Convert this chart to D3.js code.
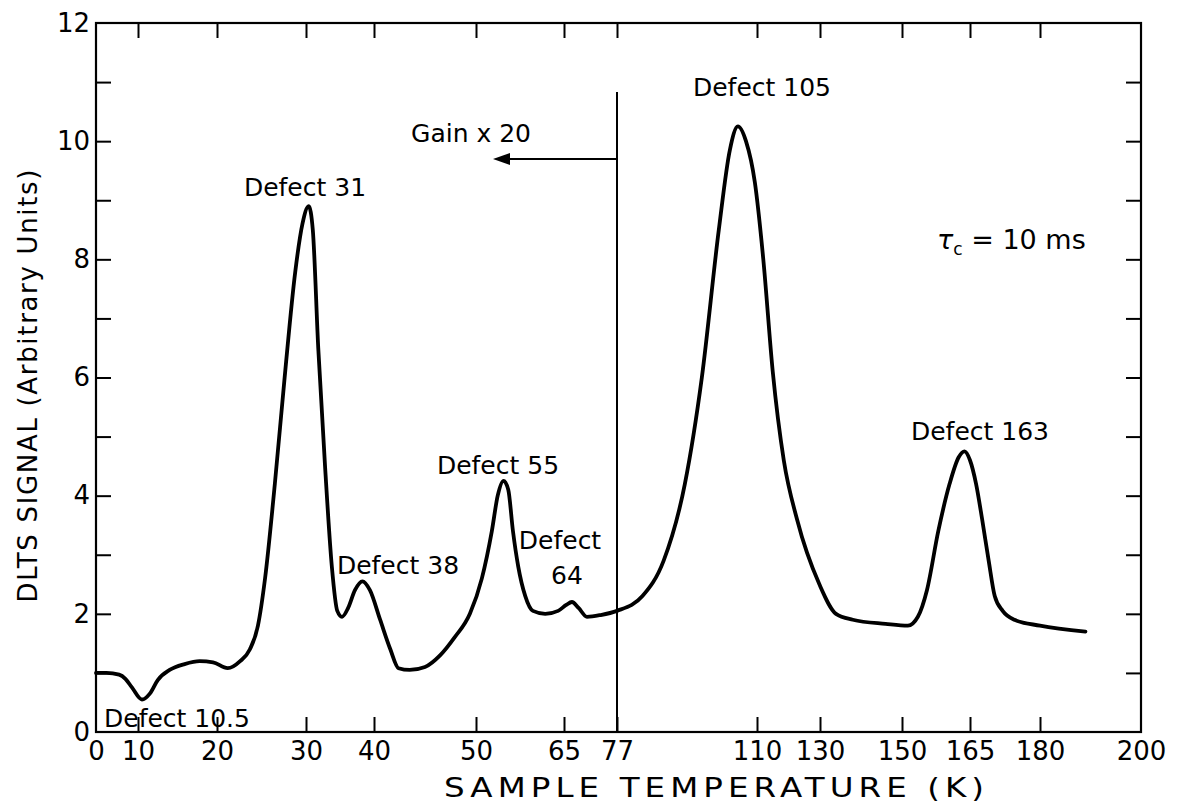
<!DOCTYPE html>
<html>
<head>
<meta charset="utf-8">
<script src="https://cdn.jsdelivr.net/npm/d3@7"></script>
<style>
  body { margin: 0; background: #fff; }
  svg text { font-family: "DejaVu Sans", sans-serif; fill: #000; }
</style>
</head>
<body>
<svg id="chart" width="1177" height="806"></svg>
<script>
// x axis of the original is hand ruled, not linear
const tickValues = [0, 10, 20, 30, 40, 50, 65, 77, 110, 130, 150, 165, 180, 200];
const tickLabels = ["0", "10", "20", "30", "40", "50", "65", "77", "110", "130", "150", "165", "180", "200"];
const yTicks = [0, 1, 2, 3, 4, 5, 6, 7, 8, 9, 10, 11, 12];

// DLTS spectrum (K, arbitrary units)
const temperature = [0, 2.5, 5.5, 7, 8.6, 10.5, 11.5, 12.5, 14, 15.9, 17.8, 19.5, 21.2, 22.6, 23.7, 24.6,
  25.4, 26.5, 27.6, 28.8, 29.6, 30.4, 31, 31.8, 32.8, 33.8, 34.6, 35.3, 36.2, 37.2, 38.3, 39.4, 40.6,
  41.6, 42.4, 43.5, 45, 46.5, 47.9, 49.4, 51, 52.7, 53.7, 54.7, 55.5, 56.3, 57.2, 58.4, 59.7, 61.8, 64,
  65.5, 66.8, 68.3, 70.2, 73.3, 77, 83, 88, 93, 97, 101, 103.6, 105.5, 107.4, 109.5, 112, 115, 118.5,
  122.7, 129.8, 133.9, 138, 146, 151.3, 153.5, 155.5, 158, 160.5, 162.5, 163.8, 165, 166.3, 167.6,
  169, 170.3, 172, 174.5, 180, 189];
const signal = [1.0, 1.0, 0.97, 0.9, 0.75, 0.55, 0.65, 0.88, 1.05, 1.15, 1.2, 1.18, 1.08, 1.2, 1.4, 1.8,
  2.6, 4.2, 6.0, 7.8, 8.6, 8.9, 8.5, 6.5, 4.5, 2.8, 2.05, 1.95, 2.1, 2.4, 2.55, 2.4, 1.9,
  1.4, 1.08, 1.05, 1.1, 1.3, 1.6, 2.0, 2.6, 3.4, 4.0, 4.25, 4.1, 3.4, 2.8, 2.3, 2.05, 2.0, 2.05,
  2.15, 2.2, 2.1, 1.95, 1.98, 2.05, 2.3, 2.9, 4.2, 6.0, 8.5, 9.85, 10.25, 10.0, 9.3, 8.0, 6.1, 4.6,
  3.6, 2.5, 2.0, 1.9, 1.83, 1.8, 1.95, 2.4, 3.4, 4.2, 4.65, 4.75, 4.6, 4.2, 3.6,
  2.9, 2.3, 2.05, 1.9, 1.8, 1.7];

const gainLimit = 77;

const svg = d3.select("#chart");

// pixel position of each ruled tick
const tickPx = [96, 138, 217, 306, 374, 476, 564, 617, 757, 820, 902, 970, 1040, 1141];
const x = d3.scaleLinear().domain(tickValues).range(tickPx);
const y = d3.scaleLinear().domain([0, 12]).range([732, 23]);

const x0 = x(0), x1 = x(200), y0 = y(0), y1 = y(12);
const tickLen = 15;

// frame
svg.append("rect")
  .attr("x", x0).attr("y", y1)
  .attr("width", x1 - x0).attr("height", y0 - y1)
  .attr("fill", "none").attr("stroke", "#000").attr("stroke-width", 2.2);

const inner = tickValues.slice(1, -1);

svg.append("g")
  .attr("transform", "translate(0," + y0 + ")")
  .call(d3.axisBottom(x).tickValues(tickValues).tickSize(-tickLen).tickPadding(10)
    .tickFormat((d, i) => tickLabels[i]))
  .call(g => g.select(".domain").remove())
  .call(g => g.selectAll("line").attr("stroke-width", 2).filter(d => d == 0 || d == 200).remove())
  .call(g => g.selectAll("text").attr("font-size", 26).attr("font-family", "DejaVu Sans"));

svg.append("g")
  .attr("transform", "translate(0," + y1 + ")")
  .call(d3.axisTop(x).tickValues(inner).tickSize(-tickLen).tickFormat(""))
  .call(g => g.select(".domain").remove())
  .call(g => g.selectAll("line").attr("stroke-width", 2));

svg.append("g")
  .attr("transform", "translate(" + x0 + ",0)")
  .call(d3.axisLeft(y).tickValues(yTicks).tickSize(-tickLen).tickPadding(6)
    .tickFormat(d => d % 2 == 0 ? d : ""))
  .call(g => g.select(".domain").remove())
  .call(g => g.selectAll("line").attr("stroke-width", 2).filter(d => d == 0 || d == 12).remove())
  .call(g => g.selectAll("text").attr("font-size", 26).attr("font-family", "DejaVu Sans"));

svg.append("g")
  .attr("transform", "translate(" + x1 + ",0)")
  .call(d3.axisRight(y).tickValues(yTicks.slice(1, -1)).tickSize(-tickLen).tickFormat(""))
  .call(g => g.select(".domain").remove())
  .call(g => g.selectAll("line").attr("stroke-width", 2));

// axis titles (wide hand lettering -> stretched glyphs)
svg.append("text")
  .attr("transform", "translate(714,797) scale(1.25,1)")
  .attr("text-anchor", "middle")
  .attr("font-size", 26)
  .attr("textLength", 432).attr("lengthAdjust", "spacing")
  .text("SAMPLE TEMPERATURE (K)");

svg.append("text")
  .attr("transform", "translate(37,386) rotate(-90)")
  .attr("text-anchor", "middle")
  .attr("font-size", 26)
  .attr("textLength", 433).attr("lengthAdjust", "spacing")
  .text("DLTS SIGNAL (Arbitrary Units)");

// gain boundary and arrow
svg.append("line")
  .attr("x1", x(gainLimit)).attr("x2", x(gainLimit))
  .attr("y1", 92).attr("y2", y0)
  .attr("stroke", "#000").attr("stroke-width", 2);

const arrowY = 159;
svg.append("line")
  .attr("x1", x(gainLimit)).attr("x2", 505)
  .attr("y1", arrowY).attr("y2", arrowY)
  .attr("stroke", "#000").attr("stroke-width", 2.2);
svg.append("path")
  .attr("d", d3.line()([[493, arrowY], [510, arrowY - 6], [510, arrowY + 6]]) + "Z")
  .attr("fill", "#000");

svg.append("text")
  .attr("x", 531).attr("y", 142)
  .attr("text-anchor", "end")
  .attr("font-size", 25)
  .text("Gain x 20");

// spectrum
const pts = temperature.map((t, i) => [t, signal[i]]);
svg.append("path")
  .datum(pts)
  .attr("d", d3.line().x(d => x(d[0])).y(d => y(d[1])).curve(d3.curveMonotoneX))
  .attr("fill", "none")
  .attr("stroke", "#000")
  .attr("stroke-width", 3.8)
  .attr("stroke-linejoin", "round")
  .attr("stroke-linecap", "round");

// peak labels
const notes = [
  { t: "Defect 10.5", x: 104, y: 727, a: "start" },
  { t: "Defect 31", x: 305, y: 196, a: "middle" },
  { t: "Defect 38", x: 398, y: 574, a: "middle" },
  { t: "Defect 55", x: 498, y: 474, a: "middle" },
  { t: "Defect", x: 560, y: 549, a: "middle" },
  { t: "64", x: 567, y: 584, a: "middle" },
  { t: "Defect 105", x: 762, y: 96, a: "middle" },
  { t: "Defect 163", x: 980, y: 440, a: "middle" }
];
svg.selectAll("text.note")
  .data(notes)
  .enter()
  .append("text")
  .attr("class", "note")
  .attr("x", d => d.x)
  .attr("y", d => d.y)
  .attr("text-anchor", d => d.a)
  .attr("font-size", 25)
  .text(d => d.t);

const tau = svg.append("text")
  .attr("x", 937).attr("y", 249)
  .attr("font-size", 27);
tau.append("tspan").attr("font-style", "italic").text("τ");
tau.append("tspan").attr("font-size", 17).attr("dy", 6).text("c");
tau.append("tspan").attr("dy", -6).text(" = 10 ms");
</script>
</body>
</html>
